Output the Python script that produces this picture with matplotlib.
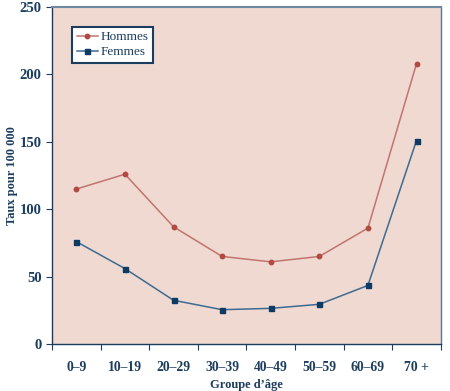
import numpy as np
from matplotlib import pyplot as plt

# Taux pour 100 000 par groupe d'age
groupes = ["0\u20139", "10\u201319", "20\u201329", "30\u201339", "40\u201349", "50\u201359", "60\u201369", "70 +"]
hommes = [115, 126, 87, 65, 61, 65, 86, 208]
femmes = [76, 56, 32.5, 25.5, 26.5, 29.5, 43.5, 151]

navy = "#1c3d5e"
plt.rcParams['font.family'] = ['Liberation Serif', 'DejaVu Serif']
plt.rcParams['font.weight'] = 'bold'

fig = plt.figure(figsize=(4.5, 3.91), dpi=100)
ax = fig.add_axes([0.1156, 0.12, 0.864, 0.862])
ax.set_facecolor("#efd9d1")

x = np.arange(len(groupes))
ax.plot(x, hommes, color="#c27470", lw=1.1, marker="o", ms=3.2,
        mfc="#b24a44", mec="#b24a44", label="Hommes")
ax.plot(x, femmes, color="#3d6b91", lw=1.1, marker="s", ms=3.6,
        mfc="#0d3b63", mec="#0d3b63", label="Femmes")

ax.set_xlim(-0.5, 7.5)
ax.set_ylim(0, 250)
ax.set_xticks(np.arange(-0.5, 8, 1))
ax.set_xticklabels([])
ax.set_xticks(x, minor=True)
ax.set_xticklabels(groupes, minor=True, fontsize=9.8, color=navy, fontweight='bold')
ax.tick_params(axis='x', which='minor', length=0, pad=12)
ax.tick_params(axis='x', which='major', length=4, color=navy, direction='out')
ax.set_yticks([0, 50, 100, 150, 200, 250])
ax.tick_params(axis='y', length=4, color=navy, labelcolor=navy, labelsize=10.5)
for lab in ax.get_yticklabels():
    lab.set_fontweight('bold')

for s in ax.spines.values():
    s.set_color(navy)
    s.set_linewidth(1)
ax.spines['top'].set_color("#6f8aa0")
ax.spines['top'].set_linewidth(1.5)
ax.spines['right'].set_color("#5c7790")

ax.set_xlabel("Groupe d\u2019\u00e2ge", fontsize=9, color=navy, fontweight='bold', labelpad=4)
ax.set_ylabel("Taux pour 100 000", fontsize=9, color=navy, fontweight='bold', labelpad=1)

leg = ax.legend(loc='upper left', bbox_to_anchor=(0.045, 0.95), fontsize=9.5,
                fancybox=False, framealpha=1, edgecolor=navy, handlelength=1.6,
                borderpad=0.35, labelspacing=0.2, handletextpad=0.2,
                borderaxespad=0.2)
leg.get_frame().set_linewidth(1.5)
for t in leg.get_texts():
    t.set_color(navy)
    t.set_fontweight('normal')

fig.savefig("out.png", dpi=100)
